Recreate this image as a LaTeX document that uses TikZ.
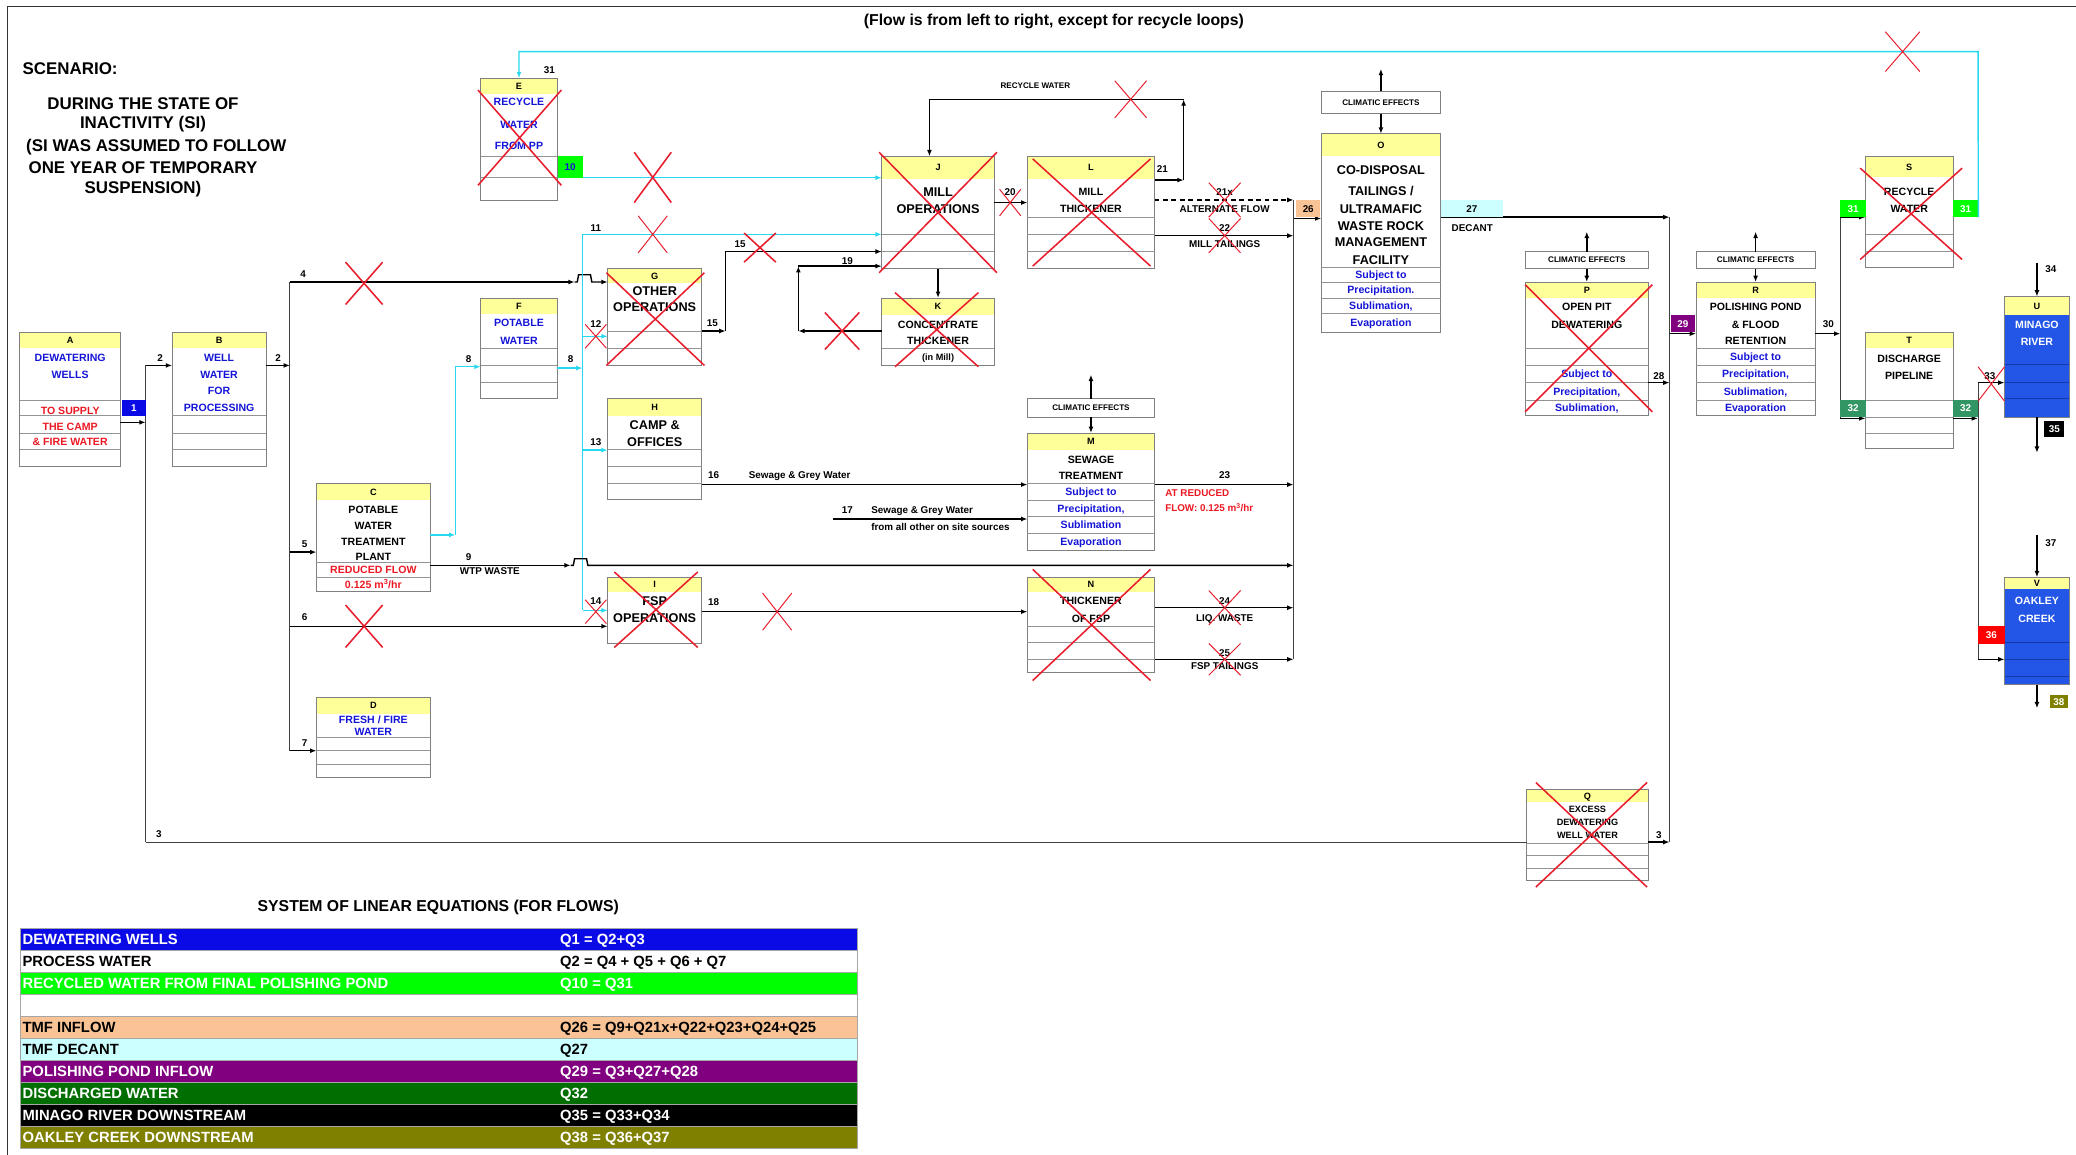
\documentclass[tikz,border=0pt]{standalone}
\usepackage{fontspec}
\setmainfont{Liberation Sans}
\usepackage{xcolor}
\usetikzlibrary{arrows.meta,positioning}

\definecolor{hdryellow}{RGB}{255,255,153}
\definecolor{boxgray}{RGB}{128,128,128}
\definecolor{txtblue}{RGB}{20,20,215}
\definecolor{txtred}{RGB}{235,25,35}
\definecolor{xred}{RGB}{232,30,45}
\definecolor{flowcyan}{RGB}{40,215,240}
\definecolor{boxgreen}{RGB}{0,255,0}
\definecolor{boxteal}{RGB}{50,150,100}
\definecolor{boxpurple}{RGB}{128,0,128}
\definecolor{boxpeach}{RGB}{250,195,150}
\definecolor{boxcyan}{RGB}{204,255,255}
\definecolor{boxolive}{RGB}{128,128,0}
\definecolor{riverblue}{RGB}{35,85,230}
\definecolor{riverline}{RGB}{20,55,170}
\definecolor{tabblue}{RGB}{10,10,230}
\definecolor{tabgreen}{RGB}{0,110,0}

\newcommand{\fsbox}{\fontsize{15}{17}\selectfont\bfseries}
\newcommand{\fshd}{\fontsize{13}{15}\selectfont\bfseries}
\newcommand{\fssm}{\fontsize{13}{15}\selectfont\bfseries}
\newcommand{\fsbig}{\fontsize{18}{20}\selectfont\bfseries}
\newcommand{\fslab}{\fontsize{14}{16}\selectfont\bfseries}
\newcommand{\fsclim}{\fontsize{11.5}{13}\selectfont\bfseries}
\newcommand{\fstab}{\fontsize{21}{24}\selectfont\bfseries}
\newcommand{\fsscen}{\fontsize{24}{28}\selectfont\bfseries}
\newcommand{\fstitle}{\fontsize{22.4}{26}\selectfont\bfseries}

% box with yellow header: name, x1, y1, x2, y2, header bottom
\newcommand{\procbox}[6]{%
  \fill[hdryellow] (#2,#3) rectangle (#4,#6);
  \node[boxframe, anchor=north west, minimum width={(#4-#2)*0.66mm},
        minimum height={(#5-#3)*0.66mm}] (#1) at (#2,#3) {};}
% row separators of a box
\newcommand{\boxrows}[3][rowline]{%
  \foreach \r in {#3} \draw[#1] (#2.west |- 0,\r) -- (#2.east |- 0,\r);}
% texts of a box: box, style, prefix, y/text list
\newcommand{\boxtext}[4]{%
  \foreach \yy/\txt [count=\idx] in {#4} \node[#2] (#3\idx) at (#1.north |- 0,\yy) {\txt};}
% coloured flow number: name, x1, y1, x2, y2, fill, text colour, text
\newcommand{\flowtag}[8]{%
  \node[tagcell, fill=#6, text=#7, anchor=north west, minimum width={(#4-#2)*0.66mm},
        minimum height={(#5-#3)*0.66mm}] (#1) at (#2,#3) {#8};}
% climatic effects box
\newcommand{\climbox}[5]{%
  \node[boxframe, font=\fsclim, anchor=north west, minimum width={(#4-#2)*0.66mm},
        minimum height={(#5-#3)*0.66mm}] (#1) at (#2,#3) {CLIMATIC EFFECTS};}
% red cross: centre x, centre y, half width, half height
\newcommand{\redx}[5][crossout]{%
  \draw[#1] (#2-#4,#3-#5) -- (#2+#4,#3+#5) (#2-#4,#3+#5) -- (#2+#4,#3-#5);}

\begin{document}
\begin{tikzpicture}[x=0.66mm, y=-0.66mm,
    boxframe/.style={draw=boxgray, line width=1.1pt, inner sep=0pt, outer sep=0pt},
    rowline/.style={draw=boxgray!85, line width=0.9pt},
    riverrow/.style={draw=riverline, line width=0.9pt},
    txtbase/.style={inner sep=0pt, text depth=0pt},
    hdtxt/.style={txtbase, font=\fshd, text height=9.3pt},
    bktxt/.style={txtbase, font=\fsbox, text height=10.7pt},
    bltxt/.style={bktxt, text=txtblue},
    rdtxt/.style={bktxt, text=txtred},
    wttxt/.style={bktxt, text=white},
    smtxt/.style={txtbase, font=\fssm, text height=9.3pt},
    bigtxt/.style={txtbase, font=\fsbig, text height=12.9pt},
    labtxt/.style={txtbase, font=\fslab, text height=10pt},
    redlab/.style={labtxt, text=txtred, anchor=west},
    tagcell/.style={inner sep=0pt, font=\fslab},
    pipe/.style={line width=1.4pt, draw=black!75},
    flow/.style={line width=2pt, draw=black, -{Latex[length=9pt,width=7pt]}},
    water/.style={line width=2pt, draw=flowcyan},
    waterflow/.style={water, -{Latex[length=9pt,width=7pt]}},
    crossout/.style={draw=xred, line width=2.2pt},
    thincross/.style={draw=xred, line width=1.4pt},
    tabcell/.style={draw=black!35, line width=0.6pt, inner sep=0pt, anchor=north west,
                    minimum width=632*0.66mm, minimum height=16.6*0.66mm},
    tabtxt/.style={inner sep=0pt, font=\fstab, anchor=west, text height=15pt, text depth=0pt}]
\useasboundingbox (0,0) rectangle (1568,872);
\draw[line width=1.4pt, black!80] (6,872) -- (6,5) -- (1568,5);

% headings
\node[font=\fstitle, inner sep=0pt] (title) at (796,16) {(Flow is from left to right, except for recycle loops)};
\node[font=\fsscen, inner sep=0pt, anchor=west] (scen) at (17,51.5) {SCENARIO:};
\foreach \yy/\xx/\txt [count=\idx] in {78/108/{DURING THE STATE OF}, 94/108/{INACTIVITY (SI)},
    111/118/{(SI WAS ASSUMED TO FOLLOW}, 127/108/{ONE YEAR OF TEMPORARY}, 143/108/{SUSPENSION)}}
  \node[font=\fsscen, inner sep=0pt] (scen\idx) at (\xx,\yy) {\txt};

% junctions and free ends
\coordinate (jA) at (110,276);   \coordinate (jAb) at (110,636);
\coordinate (jB) at (219,213);   \coordinate (jBb) at (219,567);
\coordinate (jC) at (344,404);
\coordinate (jF) at (440,177);   \coordinate (jFb) at (440,461);
\coordinate (hop4) at (434,213); \coordinate (hop9) at (431,427);
\coordinate (j15) at (548,250);  \coordinate (j19) at (603,250);
\coordinate (rec1) at (894,136); \coordinate (rec2) at (894,75); \coordinate (rec3) at (702,75);
\coordinate (jO) at (977,151);   \coordinate (jOb) at (977,498);
\coordinate (jP) at (1261,164);  \coordinate (jPb) at (1261,636);
\coordinate (jR) at (1390,164);  \coordinate (jRb) at (1390,316);
\coordinate (jT) at (1494,289);  \coordinate (jTb) at (1494,498);
\coordinate (top1) at (1494,39); \coordinate (top2) at (392,39);
\coordinate (src17) at (629,392);
\coordinate (Mup) at (824,283);  \coordinate (Oup) at (1043,52);
\coordinate (Pup) at (1198.5,175); \coordinate (Rup) at (1326,175);
\coordinate (in34) at (1538.5,199); \coordinate (out35) at (1538.5,342);
\coordinate (in37) at (1538.5,404); \coordinate (out38) at (1538.5,535);

% A, B: wells
\procbox{A}{15}{251}{91}{352}{263}
\boxrows{A}{302,314,327,339}
\boxtext{A}{hdtxt}{Ah}{257/A}
\boxtext{A}{bltxt}{Ab}{270/DEWATERING,283/WELLS}
\boxtext{A}{rdtxt}{Ar}{310/TO SUPPLY,322/THE CAMP,334/{\& FIRE WATER}}
\procbox{B}{130}{251}{201}{352}{263}
\boxrows{B}{314,327,339}
\boxtext{B}{hdtxt}{Bh}{257/B}
\boxtext{B}{bltxt}{Bb}{270/WELL,283/WATER,295/FOR,308/PROCESSING}

% C, D: potable and fire water
\procbox{C}{239}{365}{325}{447}{378}
\boxrows{C}{425,436}
\boxtext{C}{hdtxt}{Ch}{371.5/C}
\boxtext{C}{bktxt}{Ck}{385/POTABLE,397/WATER,409.5/TREATMENT,420.5/PLANT}
\boxtext{C}{rdtxt}{Cr}{430.5/{REDUCED FLOW},441.5/{0.125 m\textsuperscript{3}/hr}}
\procbox{D}{239}{527}{325}{587}{539}
\boxrows{D}{557,567,577}
\boxtext{D}{hdtxt}{Dh}{533/D}
\boxtext{D}{bltxt}{Db}{543.5/{FRESH / FIRE},552.5/WATER}

% E, F
\procbox{E}{363}{59}{421}{151}{71}
\boxrows{E}{118,134}
\boxtext{E}{hdtxt}{Eh}{65/E}
\boxtext{E}{bltxt}{Eb}{77/RECYCLE,94/WATER,110/{FROM PP}}
\procbox{F}{363}{225}{421}{301}{237}
\boxrows{F}{263,276,289}
\boxtext{F}{hdtxt}{Fh}{231/F}
\boxtext{F}{bltxt}{Fb}{244/POTABLE,257/WATER}

% G, H, I
\procbox{G}{459}{203}{530}{276}{214}
\boxrows{G}{250,263}
\boxtext{G}{hdtxt}{Gh}{208.5/G}
\boxtext{G}{bigtxt}{Gg}{220/OTHER,232/OPERATIONS}
\procbox{H}{459}{301}{530}{377}{314}
\boxrows{H}{339,352,365}
\boxtext{H}{hdtxt}{Hh}{307.5/H}
\boxtext{H}{bigtxt}{Hg}{321/{CAMP \&},334/OFFICES}
\procbox{I}{459}{436}{530}{486}{447}
\boxtext{I}{hdtxt}{Ih}{441.5/I}
\boxtext{I}{bigtxt}{Ig}{454/FSP,467/OPERATIONS}

% J, K, L: mill
\procbox{J}{666}{118}{751}{203}{135}
\boxrows{J}{177,190}
\boxtext{J}{hdtxt}{Jh}{126.5/J}
\boxtext{J}{bigtxt}{Jg}{145/MILL,158/OPERATIONS}
\procbox{K}{666}{225}{751}{276}{238}
\boxrows{K}{263}
\boxtext{K}{hdtxt}{Kh}{231.5/K}
\boxtext{K}{bktxt}{Kk}{245/CONCENTRATE,257/THICKENER}
\boxtext{K}{smtxt}{Ks}{270/(in Mill)}
\procbox{L}{776}{118}{872}{203}{135}
\boxrows{L}{164,177,190}
\boxtext{L}{hdtxt}{Lh}{126.5/L}
\boxtext{L}{bktxt}{Lk}{145/MILL,158/THICKENER}

% M, N
\climbox{Mc}{776}{301}{872}{315}
\procbox{M}{776}{327}{872}{416}{340}
\boxrows{M}{365,378,390,403}
\boxtext{M}{hdtxt}{Mh}{333.5/M}
\boxtext{M}{bktxt}{Mk}{347/SEWAGE,359/TREATMENT}
\boxtext{M}{bltxt}{Mb}{371.5/{Subject to},384/{Precipitation,},396.5/Sublimation,409.5/Evaporation}
\procbox{N}{776}{436}{872}{508}{447}
\boxrows{N}{473,485,498}
\boxtext{N}{hdtxt}{Nh}{441.5/N}
\boxtext{N}{bktxt}{Nk}{454/THICKENER,467/{OF FSP}}

% O: co-disposal facility
\climbox{Oc}{998}{69}{1088}{86}
\procbox{O}{998}{101}{1088}{251}{118}
\boxrows{O}{202,213,225,237}
\boxtext{O}{hdtxt}{Oh}{109.5/O}
\boxtext{O}{bigtxt}{Og}{128/CO-DISPOSAL,144/{TAILINGS /},158/ULTRAMAFIC,171/{WASTE ROCK},183/MANAGEMENT,196/FACILITY}
\boxtext{O}{bltxt}{Ob}{207.5/{Subject to},219/{Precipitation.},231/{Sublimation,},244/Evaporation}

% P, R: pit and polishing pond
\climbox{Pc}{1152}{190}{1245}{203}
\procbox{P}{1152}{213}{1245}{314}{225}
\boxrows{P}{263,276,289,302}
\boxtext{P}{hdtxt}{Ph}{219/P}
\boxtext{P}{bktxt}{Pk}{232/{OPEN PIT},245/DEWATERING}
\boxtext{P}{bltxt}{Pb}{282.5/{Subject to},295.5/{Precipitation,},308/{Sublimation,}}
\climbox{Rc}{1281}{190}{1371}{203}
\procbox{R}{1281}{213}{1371}{314}{225}
\boxrows{R}{263,276,289,302}
\boxtext{R}{hdtxt}{Rh}{219/R}
\boxtext{R}{bktxt}{Rk}{232/{POLISHING POND},245/{\& FLOOD},257.5/RETENTION}
\boxtext{R}{bltxt}{Rb}{269.5/{Subject to},282.5/{Precipitation,},295.5/{Sublimation,},308/Evaporation}

% Q: excess dewatering
\procbox{Q}{1153}{596}{1245}{665}{606}
\boxrows{Q}{637,646,656}
\boxtext{Q}{hdtxt}{Qh}{601/Q}
\boxtext{Q}{smtxt}{Qs}{611/EXCESS,621/DEWATERING,631/{WELL WATER}}

% S, T
\procbox{S}{1409}{118}{1475}{202}{134}
\boxrows{S}{177,190}
\boxtext{S}{hdtxt}{Sh}{126/S}
\boxtext{S}{bktxt}{Sk}{145/RECYCLE,158/WATER}
\procbox{T}{1409}{251}{1475}{339}{263}
\boxrows{T}{302,315,327}
\boxtext{T}{hdtxt}{Th}{257/T}
\boxtext{T}{bktxt}{Tk}{271/DISCHARGE,284/PIPELINE}

% U, V: receiving waters
\fill[riverblue] (1514,238) rectangle (1563,315);
\procbox{U}{1514}{224}{1563}{315}{238}
\boxrows[riverrow]{U}{275,289,301}
\boxtext{U}{hdtxt}{Uh}{231/U}
\boxtext{U}{wttxt}{Uw}{245/MINAGO,258/RIVER}
\fill[riverblue] (1514,445) rectangle (1563,517);
\procbox{V}{1514}{436}{1563}{517}{445}
\boxrows[riverrow]{V}{485,498,511}
\boxtext{V}{hdtxt}{Vh}{440.5/V}
\boxtext{V}{wttxt}{Vw}{454/OAKLEY,467/CREEK}

% well water
\draw[flow] (A.east |- 0,319) -- (jA |- 0,319);
\draw[pipe] (jA) -- (jAb);
\draw[flow] (jA) -- (B.west |- jA);
\draw[pipe] (jAb) -- (Q.west |- jAb);
\draw[flow] (Q.east |- jAb) -- (jPb);

% process water
\draw[flow] (B.east |- jA) -- (jB |- jA);
\draw[pipe] (jB) -- (jBb);
\draw[flow] (jB) -- (hop4);
\draw[flow] (hop4) -- ++(2,0) -- ++(1,-5.5) -- ++(9,0) -- ++(1,5.5) -- (G.west |- hop4);
\draw[flow] (jB |- 0,417) -- (C.west |- 0,417);
\draw[flow] (jB |- 0,473) -- (I.west |- 0,473);
\draw[flow] (jBb) -- (D.west |- jBb);

% potable water
\draw[waterflow] (C.east |- jC) -- (jC);
\draw[waterflow] (jC) -- (jC |- 0,277) -- (F.west |- 0,277);
\draw[waterflow] (F.east |- 0,278) -- (jF |- 0,278);
\draw[water] (jF) -- (jFb);
\draw[waterflow] (jF) -- (J.west |- jF);
\draw[waterflow] (jF |- 0,254) -- (G.west |- 0,254);
\draw[waterflow] (jF |- 0,340) -- (H.west |- 0,340);
\draw[waterflow] (jFb) -- (I.west |- jFb);

% WTP waste
\draw[flow] (C.east |- hop9) -- (hop9);
\draw[flow] (hop9) -- ++(2,0) -- ++(1,-5) -- ++(9,0) -- ++(1,5) -- (jO |- hop9);

% mill circuit
\draw[flow] (G.east |- j15) -- (j15);
\draw[flow] (j15) -- (j15 |- 0,190) -- (J.west |- 0,190);
\draw[flow] (K.west |- j19) -- (j19);
\draw[flow] (j19) -- (j19 |- 0,201);
\draw[flow] (j19 |- 0,201) -- (J.west |- 0,201);
\draw[flow] (J.south) -- (K.north);
\draw[flow] (J.east |- 0,153) -- (L.west |- 0,153);
\draw[flow] (L.east |- rec1) -- (rec1);
\draw[flow] (rec1) -- (rec2);
\draw[flow] (rec2) -- (rec3) -- (J.north -| rec3);
\draw[flow, dash pattern=on 7pt off 5pt] (L.east |- jO) -- (jO);
\draw[flow] (L.east |- 0,178) -- (jO |- 0,178);

% sewage and FSP
\draw[flow] (H.east |- 0,366) -- (M.west |- 0,366);
\draw[flow] (src17) -- (M.west |- src17);
\draw[flow] (M.east |- 0,366) -- (jO |- 0,366);
\draw[flow] (Mc.south) -- (M.north);
\draw[flow] (Mc.north) -- (Mup);
\draw[flow] (I.east |- 0,462) -- (N.west |- 0,462);
\draw[flow] (N.east |- 0,459) -- (jO |- 0,459);
\draw[flow] (N.east |- jOb) -- (jOb);

% tailings facility and pond
\draw[pipe] (jO) -- (jOb);
\draw[flow] (jO |- 0,165) -- (O.west |- 0,165);
\draw[flow] (Oc.north) -- (Oup);
\draw[flow] (Oc.south) -- (O.north);
\draw[flow] (O.east |- jP) -- (jP);
\draw[pipe] (jP) -- (jPb);
\draw[flow] (Pc.north) -- (Pup);
\draw[flow] (Pc.south) -- (P.north);
\draw[flow] (P.east |- 0,289) -- (jP |- 0,289);
\draw[flow] (jP |- 0,252) -- (R.west |- 0,252);
\draw[flow] (Rc.north) -- (Rup);
\draw[flow] (Rc.south) -- (R.north);
\draw[flow] (R.east |- 0,252) -- (jR |- 0,252);
\draw[pipe] (jR) -- (jRb);
\draw[flow] (jR) -- (S.west |- jR);
\draw[flow] (jRb) -- (T.west |- jRb);
\draw[flow] (T.east |- jRb) -- (jT |- jRb);
\draw[pipe] (jT) -- (jTb);
\draw[flow] (jT) -- (U.west |- jT);
\draw[flow] (jTb) -- (V.west |- jTb);
\draw[flow] (in34) -- (U.north);
\draw[flow] (U.south) -- (out35);
\draw[flow] (in37) -- (V.north);
\draw[flow] (V.south) -- (out38);

% flow tags
\flowtag{t1}{92}{302}{110}{314}{tabblue}{white}{1}
\flowtag{t10}{421}{118}{440}{134}{boxgreen}{txtblue}{10}
\flowtag{t26}{979}{151}{997}{164}{boxpeach}{black}{26}
\flowtag{t27}{1088}{151}{1135}{164}{boxcyan}{black}{27}
\flowtag{t29}{1262}{238}{1280}{251}{boxpurple}{white}{29}
\flowtag{t31a}{1390}{151}{1409}{164}{boxgreen}{white}{31}
\flowtag{t31b}{1475}{151}{1494}{164}{boxgreen}{white}{31}
\flowtag{t32a}{1390}{302}{1409}{315}{boxteal}{white}{32}
\flowtag{t32b}{1475}{302}{1494}{315}{boxteal}{white}{32}
\flowtag{t36}{1494}{473}{1514}{486}{red}{white}{36}
\flowtag{t35}{1544}{318}{1559}{330}{black}{white}{35}
\flowtag{t38}{1548}{525}{1562}{535}{boxolive}{white}{38}

% recycle water from polishing pond
\draw[waterflow] (t10.south east) -- (J.west |- t10.south);
\draw[waterflow] (t31b.south east) -- (top1) -- (top2) -- (E.north);

% flow labels
\foreach \xx/\yy/\txt [count=\idx] in {121/270/2, 210/270/2, 229/207/4, 230/411/5, 230/466/6,
    230/561/7, 120/630/3, 1253/631/3, 415/53/31, 354/271/8, 431/271/8, 450/172/11, 450/245/12,
    450/334/13, 450/454/14, 354/421/9, 370/431/{WTP WASTE}, 538/244/15, 559/184/15, 640/197/19,
    763/145/20, 878/128/21, 925/145/21x, 925/158/{ALTERNATE FLOW}, 925/172/22,
    925/184/{MILL TAILINGS}, 539/359/16, 604/359/{Sewage \& Grey Water}, 640/385/17, 925/359/23,
    539/455/18, 925/454/24, 925/467/{LIQ. WASTE}, 925/493/25, 925/503/{FSP TAILINGS},
    1112/172/DECANT, 1253/284/28, 1381/245/30, 1503/284/33, 1549/203/34, 1549/410/37}
  \node[labtxt] (lab\idx) at (\xx,\yy) {\txt};
\node[labtxt, anchor=west] (lab17a) at (658,385) {Sewage \& Grey Water};
\node[labtxt, anchor=west] (lab17b) at (658,398) {from all other on site sources};
\node[redlab] (red23a) at (880,372) {AT REDUCED};
\node[redlab] (red23b) at (880,384) {FLOW: 0.125 m\textsuperscript{3}/hr};
\node[txtbase, font=\fsclim, text height=8.2pt] (recyc) at (782,65) {RECYCLE WATER};

% inactive units and flows
\redx{392.5}{104}{31.5}{36}
\redx{495}{241}{37}{35}
\redx{708.5}{160.5}{44.5}{45.5}
\redx{707.5}{249}{31.5}{28}
\redx{824.5}{160.5}{44.5}{40.5}
\redx{495.5}{460.5}{31.5}{28.5}
\redx{824.5}{472}{44.5}{42}
\redx{1200}{263}{48}{48}
\redx{1443.5}{161.5}{38.5}{34.5}
\redx{1202}{630.5}{42}{39.5}
\redx{275}{214}{14}{16}
\redx{275}{473}{14}{16}
\redx{493}{134}{14}{19}
\redx[thincross]{493}{177}{11}{14}
\redx[thincross]{450}{254}{8}{9}
\redx[thincross]{450}{462}{8}{9}
\redx{574}{187}{12}{11}
\redx{636}{250}{13}{14}
\redx[thincross]{763}{153}{8}{10}
\redx[thincross]{854}{75}{12}{14}
\redx[thincross]{925}{151}{12}{13}
\redx[thincross]{925}{178}{12}{13}
\redx[thincross]{587}{462}{11}{14}
\redx[thincross]{925}{459}{12}{13}
\redx[thincross]{925}{498}{12}{12}
\redx[thincross]{1437}{39}{13}{15}
\redx[thincross]{1504}{290}{10}{13}

% system of equations
\node[font=\fstitle, inner sep=0pt] (tabtitle) at (331,685) {SYSTEM OF LINEAR EQUATIONS (FOR FLOWS)};
\foreach \fc/\tc/\lt/\rt [count=\idx] in {
    tabblue/white/{DEWATERING WELLS}/{Q1 = Q2+Q3},
    white/black/{PROCESS WATER}/{Q2 = Q4 + Q5 + Q6 + Q7},
    boxgreen/white/{RECYCLED WATER FROM FINAL POLISHING POND}/{Q10 = Q31},
    white/black/{}/{},
    boxpeach/black/{TMF INFLOW}/{Q26 = Q9+Q21x+Q22+Q23+Q24+Q25},
    boxcyan/black/{TMF DECANT}/{Q27},
    boxpurple/white/{POLISHING POND INFLOW}/{Q29 = Q3+Q27+Q28},
    tabgreen/white/{DISCHARGED WATER}/{Q32},
    black/white/{MINAGO RIVER DOWNSTREAM}/{Q35 = Q33+Q34},
    boxolive/white/{OAKLEY CREEK DOWNSTREAM}/{Q38 = Q36+Q37}}{
  \pgfmathsetmacro{\ytop}{701+(\idx-1)*16.6}
  \node[tabcell, fill=\fc] (row\idx) at (15,\ytop) {};
  \node[tabtxt, text=\tc] (rowl\idx) at ([xshift=1.3mm]row\idx.west) {\lt};
  \node[tabtxt, text=\tc] (rowr\idx) at (row\idx.west -| 423,0) {\rt};
}
\end{tikzpicture}
\end{document}
